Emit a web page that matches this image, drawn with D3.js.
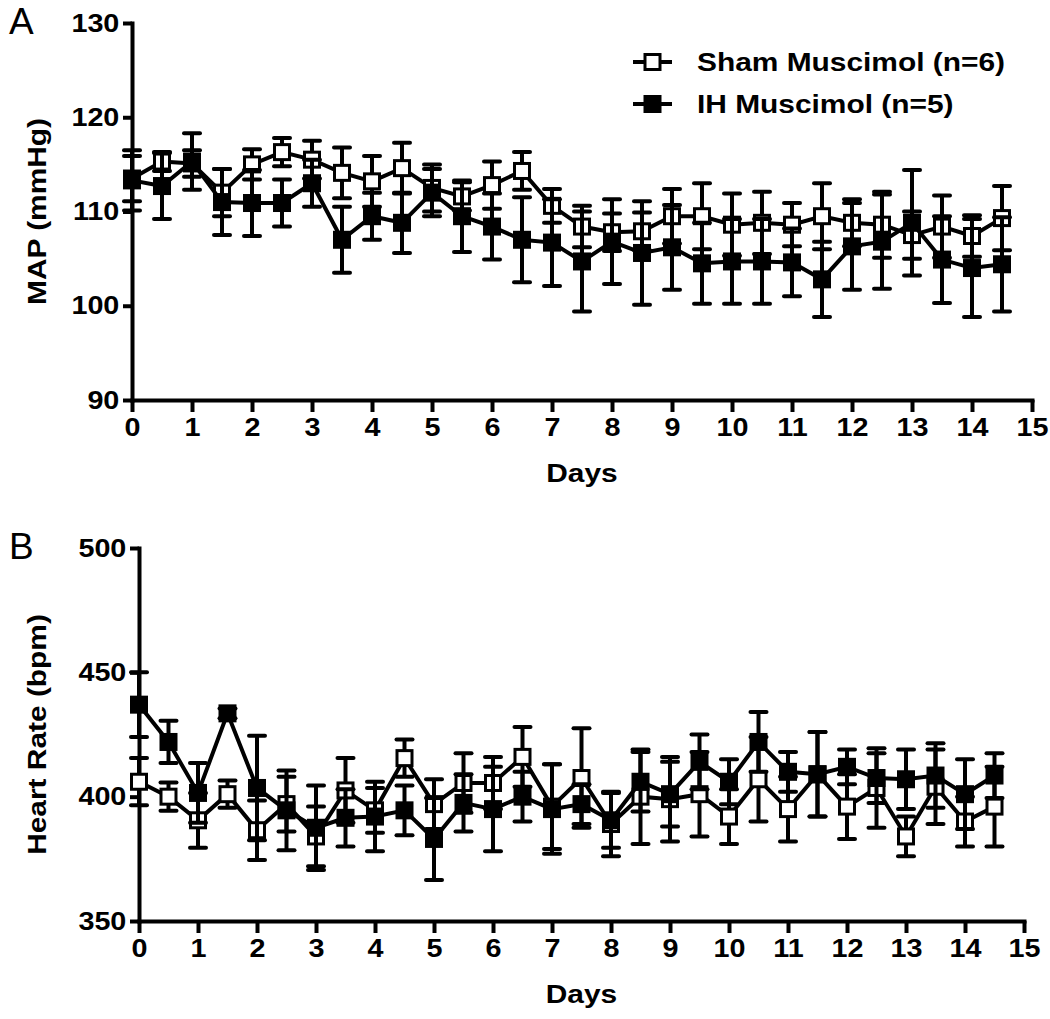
<!DOCTYPE html>
<html>
<head>
<meta charset="utf-8">
<script src="https://cdn.jsdelivr.net/npm/d3@7"></script>
<style>
  body { margin: 0; background: #fff; }
  text { font-family: "Liberation Sans", Arial, sans-serif; fill: #000; }
</style>
</head>
<body>
<script>
// days of the recording (every half day)
const days = [0, 0.5, 1, 1.5, 2, 2.5, 3, 3.5, 4, 4.5, 5, 5.5, 6, 6.5, 7, 7.5,
  8, 8.5, 9, 9.5, 10, 10.5, 11, 11.5, 12, 12.5, 13, 13.5, 14, 14.5];
const dayTicks = [0, 1, 2, 3, 4, 5, 6, 7, 8, 9, 10, 11, 12, 13, 14, 15];

// panel A: MAP (mmHg), mean and SEM
const mapSham = [113.5, 115.3, 115.1, 112, 115, 116.3, 115.5, 114.1, 113.2, 114.6,
  112.5, 111.6, 112.8, 114.3, 110.6, 108.4, 107.8, 107.9, 109.5, 109.5,
  108.6, 108.8, 108.6, 109.5, 108.8, 108.6, 107.5, 108.4, 107.4, 109.3];
const mapShamErr = [2.4, 1, 1.4, 2.5, 1.6, 1.5, 2, 2.7, 2.7, 2.7,
  2.5, 1.5, 2.5, 2, 1.8, 2.2, 2, 2, 2.9, 3.5,
  3.3, 3.3, 2.3, 3.5, 2.5, 3.5, 2.5, 3.3, 2.2, 3.4];
const mapIH = [113.3, 112.7, 115.3, 111, 110.9, 110.9, 113, 107, 109.5, 108.8,
  112, 109.5, 108.4, 107, 106.7, 104.7, 106.8, 105.6, 106.2, 104.5,
  104.7, 104.7, 104.6, 102.8, 106.3, 106.8, 108.8, 104.9, 104, 104.4];
const mapIHErr = [3.2, 3.5, 3, 3.5, 3.5, 2.5, 2.5, 3.5, 2.5, 3.2,
  2.5, 3.8, 3.5, 4.5, 4.6, 5.3, 4.5, 5.5, 4.5, 4.3,
  4.5, 4.5, 3.6, 4, 4.6, 5, 5.6, 4.6, 5.2, 5];
const mapTicks = [90, 100, 110, 120, 130];

// panel B: heart rate (bpm), mean and SEM
const hrSham = [406, 400, 390.5, 401, 386.5, 397, 384, 402.5, 394.5, 415.5,
  397, 405.5, 405.5, 416, 396, 407.5, 389, 400, 399, 401,
  392, 407, 395, 409, 396, 403.5, 384, 404, 390, 396];
const hrShamErr = [9.5, 5.7, 11, 5.5, 12, 11, 12, 13, 9, 7.5,
  10, 12, 10.5, 12, 17, 20, 13, 19, 17, 17,
  11, 17, 13, 17, 13, 16, 8, 15, 10, 16];
const hrIH = [437, 422, 401.5, 433.5, 403.5, 394.5, 387.5, 391.5, 392, 394.5,
  383, 397.5, 395, 400, 395, 397, 390.5, 406, 401, 414,
  406, 422, 410, 409, 412, 407.5, 407, 408.5, 401, 408.5];
const hrIHErr = [13, 8.5, 12, 2, 21, 16, 17, 11.5, 14, 10,
  16.5, 11.5, 17, 10, 18, 8, 11, 12, 13, 11,
  9, 12, 8, 17, 7, 10, 12, 13, 14, 9];
const hrTicks = [350, 400, 450, 500];

const seriesNames = ['Sham Muscimol (n=6)', 'IH Muscimol (n=5)'];

// the original lettering is a little wider than the stock font
const stretch = 'scale(1.15,1)';

const svg = d3.select('body').append('svg')
  .attr('width', 1050)
  .attr('height', 1019);

svg.append('rect').attr('width', 1050).attr('height', 1019).attr('fill', '#fff');

function drawPanel(cfg) {
  const x = d3.scaleLinear().domain([0, 15]).range(cfg.xRange);
  const y = d3.scaleLinear().domain(cfg.yDomain).range(cfg.yRange);
  const g = svg.append('g');

  const axisY = g.append('g')
    .attr('transform', `translate(${cfg.xRange[0]},0)`)
    .call(d3.axisLeft(y).tickValues(cfg.yTicks).tickSize(9).tickSizeOuter(0).tickPadding(2));
  const axisX = g.append('g')
    .attr('transform', `translate(0,${cfg.yRange[0]})`)
    .call(d3.axisBottom(x).tickValues(dayTicks).tickSize(12).tickSizeOuter(0).tickPadding(6));

  [axisX, axisY].forEach(a => {
    a.select('.domain').attr('stroke-width', 4).attr('stroke-linecap', 'square');
    a.selectAll('.tick line').attr('stroke-width', 4);
    a.selectAll('.tick text')
      .attr('font-size', 25)
      .attr('font-weight', 'bold')
      .attr('font-family', '"Liberation Sans", Arial, sans-serif')
      .attr('transform', stretch);
  });

  // y title
  g.append('text')
    .attr('transform', `translate(46,${(cfg.yRange[0] + cfg.yRange[1]) / 2}) rotate(-90) ${stretch}`)
    .attr('text-anchor', 'middle')
    .attr('font-size', 26)
    .attr('font-weight', 'bold')
    .text(cfg.yTitle);

  // x title
  g.append('text')
    .attr('transform', `translate(${(cfg.xRange[0] + cfg.xRange[1]) / 2},${cfg.yRange[0] + 82}) ${stretch}`)
    .attr('text-anchor', 'middle')
    .attr('font-size', 26)
    .attr('font-weight', 'bold')
    .text('Days');

  // panel letter
  g.append('text')
    .attr('x', 9)
    .attr('y', cfg.yRange[1] + 11)
    .attr('font-size', 37)
    .text(cfg.letter);

  const line = d3.line().x((d, i) => x(days[i])).y(d => y(d));

  cfg.series.forEach(s => {
    const pts = s.values.map((v, i) => ({ day: days[i], v, e: s.errs[i] }));
    const eb = g.append('g').attr('stroke', '#000').attr('stroke-width', 4);
    pts.forEach(p => {
      const cx = x(p.day), y0 = y(p.v - p.e), y1 = y(p.v + p.e);
      eb.append('line').attr('x1', cx).attr('x2', cx).attr('y1', y0).attr('y2', y1);
      eb.append('line').attr('x1', cx - 8).attr('x2', cx + 8).attr('y1', y0).attr('y2', y0)
        .attr('stroke-linecap', 'round');
      eb.append('line').attr('x1', cx - 8).attr('x2', cx + 8).attr('y1', y1).attr('y2', y1)
        .attr('stroke-linecap', 'round');
    });
    g.append('path')
      .datum(s.values)
      .attr('d', line)
      .attr('fill', 'none')
      .attr('stroke', '#000')
      .attr('stroke-width', 4);
    g.selectAll(null)
      .data(pts)
      .join('rect')
      .attr('x', p => x(p.day) - 7.5)
      .attr('y', p => y(p.v) - 7.5)
      .attr('width', 15)
      .attr('height', 15)
      .attr('fill', s.filled ? '#000' : '#fff')
      .attr('stroke', '#000')
      .attr('stroke-width', 3);
  });

  return { x, y, g };
}

const panelA = drawPanel({
  letter: 'A',
  xRange: [132, 1032],
  yRange: [400, 23],
  yDomain: [90, 130],
  yTicks: mapTicks,
  yTitle: 'MAP (mmHg)',
  series: [
    { values: mapSham, errs: mapShamErr, filled: false },
    { values: mapIH, errs: mapIHErr, filled: true },
  ],
});

drawPanel({
  letter: 'B',
  xRange: [139, 1024],
  yRange: [921, 548],
  yDomain: [350, 500],
  yTicks: hrTicks,
  yTitle: 'Heart Rate (bpm)',
  series: [
    { values: hrSham, errs: hrShamErr, filled: false },
    { values: hrIH, errs: hrIHErr, filled: true },
  ],
});

// legend for panel A
const legend = panelA.g.append('g').attr('transform', 'translate(633,62)');
seriesNames.forEach((name, i) => {
  const row = legend.append('g').attr('transform', `translate(0,${i * 42})`);
  row.append('line').attr('x1', 0).attr('x2', 39).attr('stroke', '#000').attr('stroke-width', 4);
  row.append('rect')
    .attr('x', 12).attr('y', -7.5).attr('width', 15).attr('height', 15)
    .attr('fill', i === 0 ? '#fff' : '#000')
    .attr('stroke', '#000').attr('stroke-width', 3);
  row.append('text')
    .attr('transform', `translate(64,9) ${stretch}`)
    .attr('font-size', 26)
    .attr('font-weight', 'bold')
    .text(name);
});
</script>
</body>
</html>
